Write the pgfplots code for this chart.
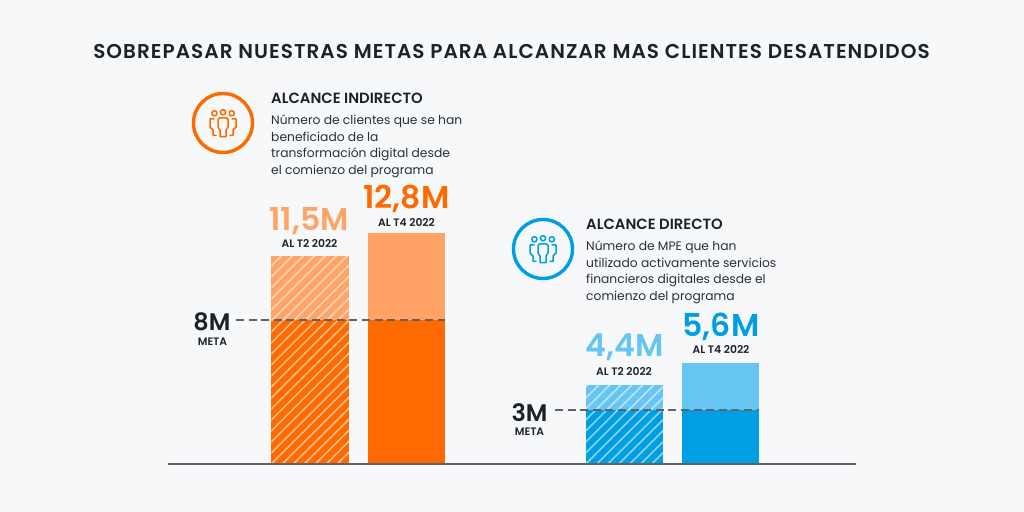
\documentclass[border=0pt]{standalone}
\usepackage{fontspec}
\setmainfont{Poppins}
\usepackage{pgfplots}
\pgfplotsset{compat=1.18}
\definecolor{bg}{HTML}{F7F8FA}
\definecolor{ink}{HTML}{1D2228}
\definecolor{body}{HTML}{2B3036}
\definecolor{org}{HTML}{FF6A00}
\definecolor{orgl}{HTML}{FFA366}
\definecolor{blu}{HTML}{009FE3}
\definecolor{blul}{HTML}{66C5F2}
\definecolor{rulec}{HTML}{5F6368}
\newfontfamily\titlefont[LetterSpace=5.2]{Poppins SemiBold}
\newfontfamily\semifont{Poppins SemiBold}
\newcommand\icon[3]{%
 \begin{scope}[shift={(#1,#2)},draw=#3,line width=1.5pt,line join=round,line cap=round]
  \draw[line width=3.4pt] (0,0) circle (29.5);
  \draw (-8.6,-9.7) circle (2.6);
  \draw (0,-10.7) circle (2.6);
  \draw (8.8,-9.7) circle (2.6);
  \draw (-3,13.7) -- (-3,7) -- (-5,4) -- (-5,-3.5) .. controls (-5,-4.7) and (-4.5,-5) .. (-3.5,-5) -- (3.5,-5) .. controls (4.5,-5) and (5,-4.7) .. (5,-3.5) -- (5,4) -- (3,7) -- (3,13.7) -- cycle;
  \draw (-9,-4) -- (-13,-4) -- (-13,4) -- (-10,7) -- (-10,12.5) -- (-7,12.5);
  \draw (9,-4) -- (13,-4) -- (13,4) -- (10,7) -- (10,12.5) -- (7,12.5);
 \end{scope}}
% white diagonal hatching over a bar: left, right, top, bottom in page pixels
\newcommand\hatch[4]{%
 \begin{scope}
  \clip (#1,#3) rectangle (#2,#4);
  \foreach \k in {-20,...,40}{
   \draw[white,opacity=0.55,line width=1.6pt] ({#1+\k*11},#4) -- ++(250,-250);}
 \end{scope}}
\begin{document}
\begin{tikzpicture}
\begin{axis}[
  scale only axis,width=1024pt,height=512pt,
  xmin=0,xmax=1024,ymin=-2.658,ymax=25.692,
  axis line style={draw=none},ticks=none,
  axis background/.style={fill=bg},
  clip=false]
% light (total reached) bars
\addplot[ybar,bar width=77.5pt,bar shift=0pt,draw=none,fill=orgl] coordinates {(310,11.5)};
\addplot[ybar,bar width=77pt,bar shift=0pt,draw=none,fill=orgl] coordinates {(406.5,12.8)};
\addplot[ybar,bar width=77.5pt,bar shift=0pt,draw=none,fill=blul] coordinates {(624.5,4.4)};
\addplot[ybar,bar width=77pt,bar shift=0pt,draw=none,fill=blul] coordinates {(720.5,5.6)};
% dark (target) bars
\addplot[ybar,bar width=77.5pt,bar shift=0pt,draw=none,fill=org] coordinates {(310,8)};
\addplot[ybar,bar width=77pt,bar shift=0pt,draw=none,fill=org] coordinates {(406.5,8)};
\addplot[ybar,bar width=77.5pt,bar shift=0pt,draw=none,fill=blu] coordinates {(624.5,3)};
\addplot[ybar,bar width=77pt,bar shift=0pt,draw=none,fill=blu] coordinates {(720.5,3)};
\end{axis}
\begin{scope}[x=1pt,y=-1pt,yshift=512pt]
 \hatch{271.25}{348.75}{256.3}{464}
 \hatch{585.75}{663.25}{384.5}{464}
\end{scope}
\begin{axis}[
  scale only axis,width=1024pt,height=512pt,
  xmin=0,xmax=1024,ymin=-2.658,ymax=25.692,
  axis line style={draw=none},ticks=none,
  clip=false]
% target lines
\addplot[rulec,line width=2pt,dash pattern=on 8pt off 4.6pt] coordinates {(236,8)(445,8)};
\addplot[rulec,line width=2pt,dash pattern=on 8pt off 4.6pt] coordinates {(555,3)(759,3)};
% baseline
\addplot[rulec,line width=2pt] coordinates {(168,0)(856,0)};
\end{axis}
\begin{scope}[x=1pt,y=-1pt,yshift=512pt]
 \node[anchor=center,text=ink,font=\titlefont\fontsize{20}{24}\selectfont] at (511.5,52) {SOBREPASAR NUESTRAS METAS PARA ALCANZAR MAS CLIENTES DESATENDIDOS};
 \icon{223}{123}{org}
 \icon{543}{249}{blu}
 \node[anchor=west,inner sep=0,text=ink,font=\semifont\fontsize{14.8}{17}\selectfont] at (271,98.5) {ALCANCE INDIRECTO};
 \node[anchor=north west,inner sep=0,text=body,font=\fontsize{12.3}{16.5}\selectfont,align=left] at (271,115) {Número de clientes que se han\\beneficiado de la\\transformación digital desde\\el comienzo del programa};
 \node[anchor=west,inner sep=0,text=ink,font=\semifont\fontsize{14.8}{17}\selectfont] at (586,224.5) {ALCANCE DIRECTO};
 \node[anchor=north west,inner sep=0,text=body,font=\fontsize{12.3}{16.5}\selectfont,align=left] at (586,241) {Número de MPE que han\\utilizado activamente servicios\\financieros digitales desde el\\comienzo del programa};
 \node[text=orgl,font=\semifont\fontsize{31.5}{34}\selectfont,inner sep=0] at (309,221) {11,5M};
 \node[text=org,font=\semifont\fontsize{31.5}{34}\selectfont,inner sep=0] at (406.5,199) {12,8M};
 \node[text=blul,font=\semifont\fontsize{31.5}{34}\selectfont,inner sep=0] at (624.5,347) {4,4M};
 \node[text=blu,font=\semifont\fontsize{31.5}{34}\selectfont,inner sep=0] at (721,327) {5,6M};
 \foreach \x/\y/\t in {309.5/243.5/AL T2 2022,406.5/222.5/AL T4 2022,624/371.5/AL T2 2022,721/349.5/AL T4 2022}{
  \node[text=ink,font=\semifont\fontsize{10.8}{12}\selectfont,inner sep=0] at (\x,\y) {\t};}
 \node[text=ink,font=\semifont\fontsize{24}{28}\selectfont,inner sep=0] at (212,322) {8M};
 \node[text=ink,font=\semifont\fontsize{10.8}{12}\selectfont,inner sep=0] at (212.5,342) {META};
 \node[text=ink,font=\semifont\fontsize{24}{28}\selectfont,inner sep=0] at (529.5,413) {3M};
 \node[text=ink,font=\semifont\fontsize{10.8}{12}\selectfont,inner sep=0] at (529.5,432) {META};
\end{scope}
\end{tikzpicture}
\end{document}
